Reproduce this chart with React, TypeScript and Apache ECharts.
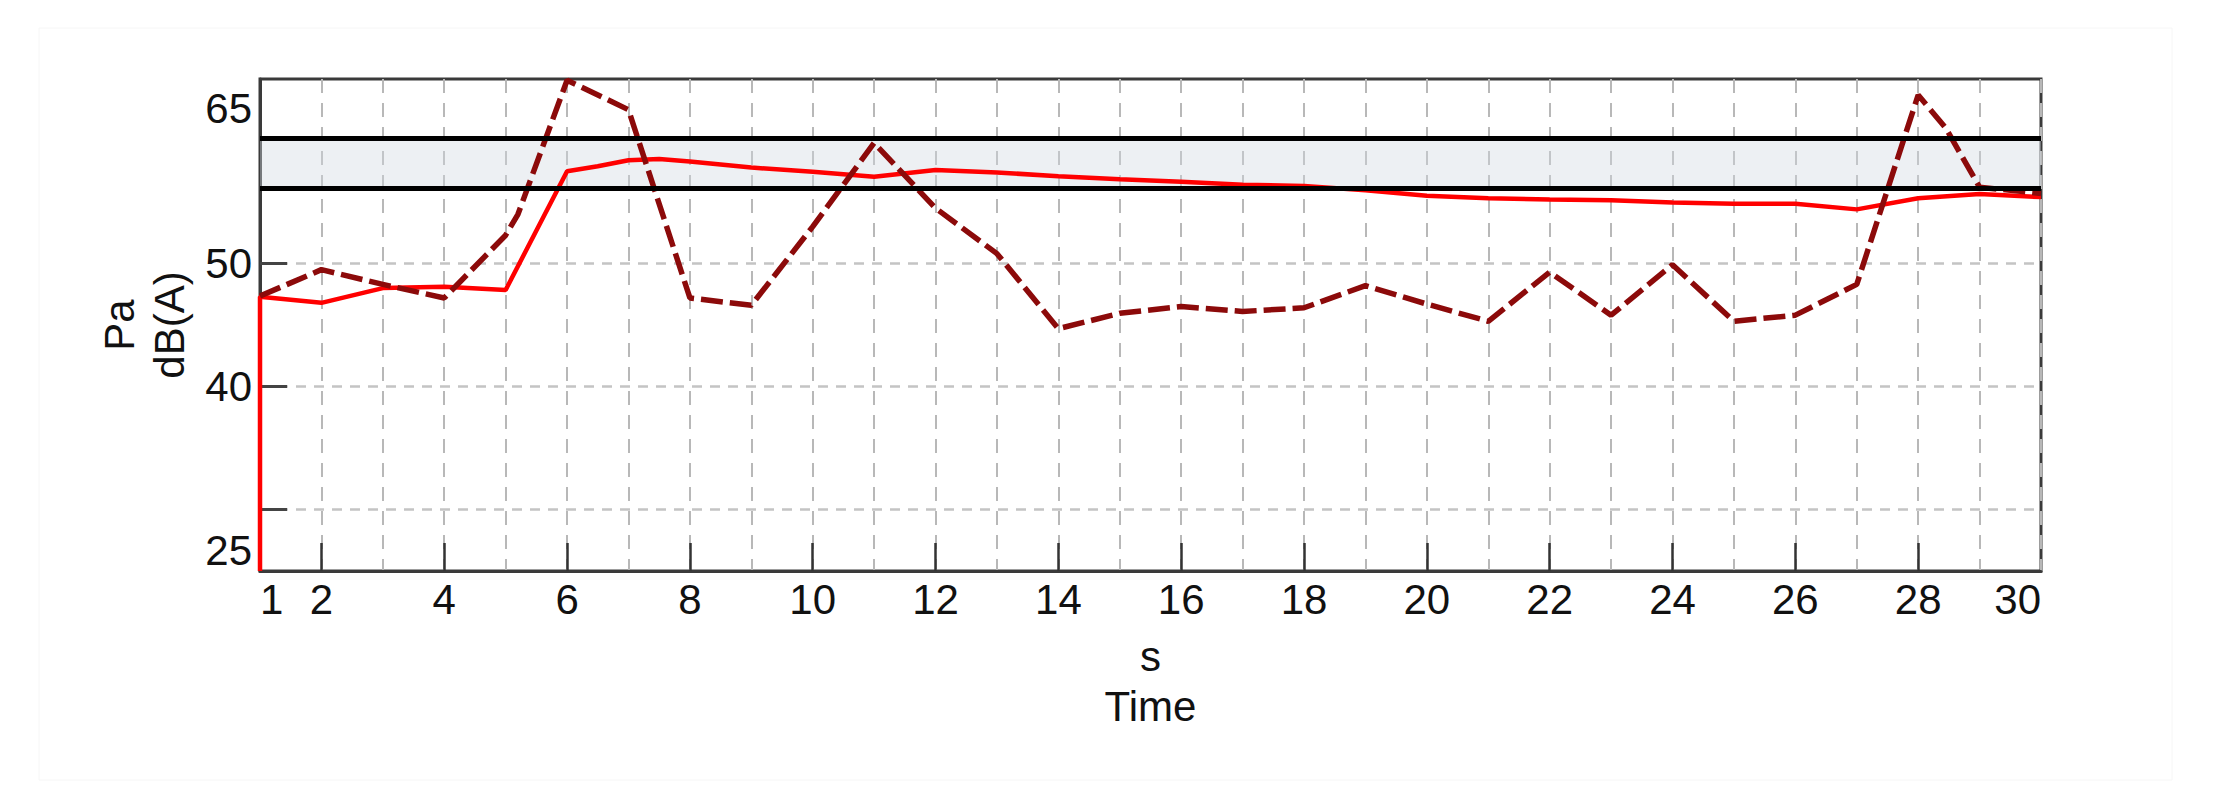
import React, { useEffect, useRef } from "react";
import * as echarts from "echarts";

// Running level (solid red)
const redTimes = [1, 1, 2, 3, 4, 5, 6, 6.5, 7, 7.5, 8, 9, 10, 11, 12, 13, 14, 15, 16, 17, 18, 19, 20, 21, 22, 23, 24, 25, 26, 27, 28, 29, 30];
const redLevels = [25, 47.3, 46.8, 48.0, 48.1, 47.85, 57.5, 57.9, 58.4, 58.5, 58.3, 57.8, 57.45, 57.05, 57.6, 57.4, 57.1, 56.85, 56.65, 56.4, 56.3, 55.95, 55.5, 55.3, 55.2, 55.15, 54.95, 54.85, 54.85, 54.4, 55.3, 55.65, 55.4];

// Instantaneous level (dark red dashed)
const dashTimes = [1, 2, 3, 4, 5, 5.2, 6, 7, 8, 9, 10, 11, 12, 13, 14, 15, 16, 17, 18, 19, 20, 21, 22, 23, 24, 25, 26, 27, 28, 28.45, 29, 30];
const dashLevels = [47.35, 49.5, 48.3, 47.2, 52.3, 54.0, 64.9, 62.5, 47.2, 46.6, 53.0, 59.8, 54.5, 50.8, 44.7, 45.95, 46.5, 46.1, 46.4, 48.2, 46.7, 45.3, 49.3, 45.8, 49.9, 45.3, 45.8, 48.3, 63.7, 61.0, 56.2, 55.7];

const xRange = [1, 30];
const yRange = [25, 65];
const xLabelValues = [1, 2, 4, 6, 8, 10, 12, 14, 16, 18, 20, 22, 24, 26, 28, 30];
const xTickValues = [2, 4, 6, 8, 10, 12, 14, 16, 18, 20, 22, 24, 26, 28];
const yLabelValues = [25, 40, 50, 65];
const yTickValues = [30, 40, 50];
const bandLimits = [56.1, 60.2];

const xAxisName = "s\nTime";
const yAxisName = "Pa\ndB(A)";

function zip(a: number[], b: number[]) {
  return a.map((v, i) => [v, b[i]]);
}

export default function App() {
  const ref = useRef<HTMLDivElement>(null);
  useEffect(() => {
    const chart = echarts.init(ref.current!, null, { renderer: "svg" });
    const font = "'Liberation Sans', Arial, sans-serif";
    const textColor = "#111";
    const fs = 42;
    const option: any = {
      animation: false,
      backgroundColor: "#ffffff",
      textStyle: { fontFamily: font },
      graphic: [
        {
          type: "rect",
          silent: true,
          z: -10,
          shape: { x: 39, y: 28, width: 2133, height: 752 },
          style: { fill: "none", stroke: "#f6f6f6", lineWidth: 1 },
        },
      ],
      grid: {
        left: 260,
        top: 79,
        width: 1781,
        height: 492,
        show: true,
        borderColor: "#3a3a3a",
        borderWidth: 3,
        backgroundColor: "transparent",
      },
      xAxis: [
        {
          type: "value",
          min: xRange[0],
          max: xRange[1],
          position: "bottom",
          name: xAxisName,
          nameLocation: "middle",
          nameGap: 60,
          nameTextStyle: { fontSize: fs, lineHeight: 50, color: textColor, fontFamily: font },
          axisLine: { show: true, lineStyle: { color: "#3a3a3a", width: 3 } },
          axisTick: {
            show: true,
            inside: true,
            length: 28,
            customValues: xTickValues,
            lineStyle: { color: "#333", width: 2.5 },
          },
          axisLabel: {
            customValues: xLabelValues,
            fontSize: fs,
            color: textColor,
            fontFamily: font,
            margin: 7,
            alignMinLabel: "left",
            alignMaxLabel: "right",
          },
          splitLine: { show: false },
        },
        {
          type: "value",
          min: xRange[0],
          max: xRange[1],
          interval: 1,
          position: "top",
          axisLine: { show: false },
          axisTick: { show: false },
          axisLabel: { show: false },
          splitLine: { show: true, lineStyle: { color: "#b8b8b8", width: 2, type: [14, 10] } },
        },
      ],
      yAxis: [
        {
          type: "value",
          min: yRange[0],
          max: yRange[1],
          interval: 5,
          name: yAxisName,
          nameLocation: "middle",
          nameRotate: 90,
          nameGap: 62,
          nameTextStyle: { fontSize: fs, lineHeight: 50, color: textColor, fontFamily: font },
          axisLine: { show: true, lineStyle: { color: "#3a3a3a", width: 3 } },
          axisTick: {
            show: true,
            inside: true,
            length: 27,
            customValues: yTickValues,
            lineStyle: { color: "#444", width: 3 },
          },
          axisLabel: {
            customValues: yLabelValues,
            fontSize: fs,
            color: textColor,
            fontFamily: font,
            margin: 8,
            verticalAlignMinLabel: "bottom",
            verticalAlignMaxLabel: "top",
            formatter: (v: number) => (v === yRange[1] ? "{top|" + v + "}" : String(v)),
            rich: { top: { fontSize: fs, color: textColor, fontFamily: font, padding: [8, 0, 0, 0] } },
          },
          splitLine: { show: true, lineStyle: { color: "#c4c4c4", width: 2.5, type: [10, 8] } },
        },
      ],
      series: [
        {
          name: "band",
          type: "line",
          data: [],
          z: 1,
          silent: true,
          markArea: {
            silent: true,
            itemStyle: { color: "rgba(210,218,226,0.4)" },
            data: [[{ yAxis: bandLimits[0] }, { yAxis: bandLimits[1] }]],
          },
        },
        {
          name: "running",
          type: "line",
          data: zip(redTimes, redLevels),
          showSymbol: false,
          symbol: "none",
          z: 3,
          lineStyle: { color: "#ff0000", width: 4.5 },
        },
        {
          name: "instant",
          type: "line",
          data: zip(dashTimes, dashLevels),
          showSymbol: false,
          symbol: "none",
          z: 3,
          lineStyle: { color: "#8c0a0a", width: 5.5, type: [22, 7], cap: "butt" },
        },
        {
          name: "limits",
          type: "line",
          data: [],
          z: 4,
          silent: true,
          markLine: {
            silent: true,
            symbol: ["none", "none"],
            label: { show: false },
            lineStyle: { color: "#000", width: 5, type: "solid" },
            data: [{ yAxis: bandLimits[0] }, { yAxis: bandLimits[1] }],
          },
        },
      ],
    };
    chart.setOption(option);
    return () => chart.dispose();
  }, []);
  return (
    <div
      ref={ref}
      style={{ position: "fixed", left: 0, top: 0, width: 2214, height: 812 }}
    />
  );
}
